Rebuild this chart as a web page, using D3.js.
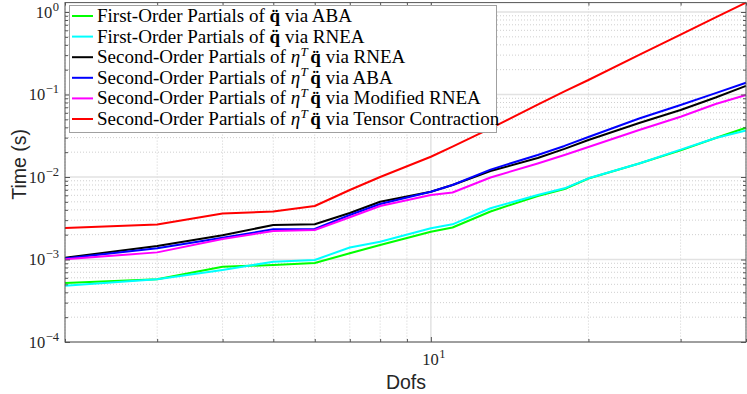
<!DOCTYPE html>
<html>
<head>
<meta charset="utf-8">
<script src="https://cdn.jsdelivr.net/npm/d3@7"></script>
<style>
  html, body { margin: 0; padding: 0; background: #fff; }
  svg { display: block; }
</style>
</head>
<body>
<svg id="chart"></svg>
<script>
// Data (time in seconds)
const dofs = [2, 3, 4, 5, 6, 7, 8, 10, 11, 13, 16, 18, 20, 25, 30, 35, 40];

const firstAba = [5.19e-4, 5.75e-4, 8.18e-4, 8.58e-4, 9.07e-4, 1.19e-3, 1.50e-3, 2.17e-3, 2.44e-3, 3.82e-3, 5.89e-3, 7.15e-3, 9.59e-3, 1.46e-2, 2.10e-2, 2.97e-2, 3.96e-2];
const firstRnea = [4.81e-4, 5.75e-4, 7.46e-4, 9.40e-4, 9.86e-4, 1.40e-3, 1.64e-3, 2.39e-3, 2.67e-3, 4.18e-3, 6.05e-3, 7.29e-3, 9.64e-3, 1.46e-2, 2.15e-2, 2.97e-2, 3.66e-2];
const secondRnea = [1.05e-3, 1.46e-3, 1.97e-3, 2.62e-3, 2.67e-3, 3.66e-3, 5.02e-3, 6.63e-3, 8.0e-3, 1.18e-2, 1.70e-2, 2.19e-2, 2.81e-2, 4.51e-2, 6.49e-2, 9.19e-2, 0.127];
const secondAba = [1.03e-3, 1.37e-3, 1.84e-3, 2.32e-3, 2.34e-3, 3.46e-3, 4.71e-3, 6.63e-3, 8.0e-3, 1.23e-2, 1.85e-2, 2.38e-2, 3.05e-2, 5.12e-2, 7.46e-2, 0.104, 0.139];
const secondModRnea = [1.01e-3, 1.22e-3, 1.77e-3, 2.22e-3, 2.28e-3, 3.25e-3, 4.45e-3, 6.05e-3, 6.49e-3, 9.86e-3, 1.46e-2, 1.85e-2, 2.31e-2, 3.71e-2, 5.38e-2, 7.67e-2, 9.86e-2];
const secondTensor = [2.41e-3, 2.66e-3, 3.61e-3, 3.82e-3, 4.45e-3, 6.96e-3, 1.0e-2, 1.76e-2, 2.33e-2, 3.88e-2, 7.52e-2, 0.109, 0.150, 0.303, 0.532, 0.863, 1.30];

const seriesNames = [
  'First-Order Partials of q\u0308 via ABA',
  'First-Order Partials of q\u0308 via RNEA',
  'Second-Order Partials of η^T q\u0308 via RNEA',
  'Second-Order Partials of η^T q\u0308 via ABA',
  'Second-Order Partials of η^T q\u0308 via Modified RNEA',
  'Second-Order Partials of η^T q\u0308 via Tensor Contraction'
];
const seriesColors = ['#00ff00', '#00ffff', '#000000', '#0000ff', '#ff00ff', '#ff0000'];
const seriesValues = [firstAba, firstRnea, secondRnea, secondAba, secondModRnea, secondTensor];

const yMajor = [1e-4, 1e-3, 1e-2, 1e-1, 1];
const xMajor = [10];

const width = 747, height = 394;
const plot = { left: 65, right: 746, top: 2.6, bottom: 342 };

const svg = d3.select('#chart').attr('width', width).attr('height', height);

const x = d3.scaleLog().domain([2, 40]).range([plot.left, plot.right]);
const y = d3.scaleLog().domain([1e-4, 1.3]).range([plot.bottom, plot.top]);

const xMinor = x.ticks().filter(d => !xMajor.includes(d));
const yMinor = y.ticks().filter(d => !yMajor.some(m => Math.abs(m - d) / m < 1e-6));

// Grid
const grid = svg.append('g');
grid.selectAll('.xminor').data(xMinor).enter().append('line')
  .attr('x1', d => x(d)).attr('x2', d => x(d))
  .attr('y1', plot.top).attr('y2', plot.bottom)
  .attr('stroke', '#cfcfcf').attr('stroke-dasharray', '1,2');
grid.selectAll('.yminor').data(yMinor).enter().append('line')
  .attr('x1', plot.left).attr('x2', plot.right)
  .attr('y1', d => y(d)).attr('y2', d => y(d))
  .attr('stroke', '#cfcfcf').attr('stroke-dasharray', '1,2');
grid.selectAll('.xmajor').data(xMajor).enter().append('line')
  .attr('x1', d => x(d)).attr('x2', d => x(d))
  .attr('y1', plot.top).attr('y2', plot.bottom)
  .attr('stroke', '#e2e2e2').attr('stroke-width', 1.5);
grid.selectAll('.ymajor').data(yMajor).enter().append('line')
  .attr('x1', plot.left).attr('x2', plot.right)
  .attr('y1', d => y(d)).attr('y2', d => y(d))
  .attr('stroke', '#e2e2e2').attr('stroke-width', 1.5);

// Series lines
const line = d3.line().x((d, i) => x(dofs[i])).y(d => y(d));
svg.append('g').selectAll('path').data(seriesValues).enter().append('path')
  .attr('d', d => line(d))
  .attr('fill', 'none')
  .attr('stroke', (d, i) => seriesColors[i])
  .attr('stroke-width', 2)
  .attr('stroke-linejoin', 'round');

// Axes: ticks pointing inward on all four sides
const axisColor = '#555';
function tickAxis(axisFn, scale, values, size, tx, ty) {
  const g = svg.append('g')
    .attr('transform', `translate(${tx},${ty})`)
    .call(axisFn(scale).tickValues(values).tickSize(size).tickFormat(''));
  g.select('.domain').remove();
  g.selectAll('line').attr('stroke', axisColor);
}
tickAxis(d3.axisLeft, y, yMajor, -5, plot.left, 0);
tickAxis(d3.axisLeft, y, yMinor, -3, plot.left, 0);
tickAxis(d3.axisRight, y, yMajor, -5, plot.right, 0);
tickAxis(d3.axisRight, y, yMinor, -3, plot.right, 0);
tickAxis(d3.axisBottom, x, xMajor, -5, 0, plot.bottom);
tickAxis(d3.axisBottom, x, xMinor, -3, 0, plot.bottom);
tickAxis(d3.axisTop, x, xMajor, -5, 0, plot.top);
tickAxis(d3.axisTop, x, xMinor, -3, 0, plot.top);

svg.append('rect')
  .attr('x', plot.left).attr('y', plot.top)
  .attr('width', plot.right - plot.left).attr('height', plot.bottom - plot.top)
  .attr('fill', 'none').attr('stroke', axisColor).attr('stroke-width', 1);

// Tick labels 10^n
const serif = '"Liberation Serif", "DejaVu Serif", serif';
function powerLabel(sel, exp) {
  sel.append('tspan').text('10');
  sel.append('tspan').attr('font-size', 12.5).attr('dx', 0.5).attr('dy', -7)
    .text(exp < 0 ? '\u2212' + (-exp) : String(exp));
}
svg.append('g').selectAll('text').data(yMajor).enter().append('text')
  .attr('x', 59).attr('y', d => y(d) + 5.5)
  .attr('text-anchor', 'end')
  .attr('font-family', serif).attr('font-size', 16.5).attr('fill', '#262626')
  .each(function(d) { powerLabel(d3.select(this), Math.round(Math.log10(d))); });
svg.append('g').selectAll('text').data(xMajor).enter().append('text')
  .attr('x', d => x(d) + 3).attr('y', plot.bottom + 23)
  .attr('text-anchor', 'middle')
  .attr('font-family', serif).attr('font-size', 16.5).attr('fill', '#262626')
  .each(function(d) { powerLabel(d3.select(this), Math.round(Math.log10(d))); });

// Axis titles
const sans = '"Liberation Sans", Arial, sans-serif';
svg.append('text')
  .attr('transform', `translate(26,${(plot.top + plot.bottom) / 2 - 8}) rotate(-90)`)
  .attr('text-anchor', 'middle')
  .attr('font-family', sans).attr('font-size', 19.5).attr('fill', '#262626')
  .text('Time (s)');
svg.append('text')
  .attr('x', 406).attr('y', 389)
  .attr('text-anchor', 'middle')
  .attr('font-family', sans).attr('font-size', 19.5).attr('fill', '#262626')
  .text('Dofs');

// Legend
const legend = svg.append('g');
legend.append('rect')
  .attr('x', 69.5).attr('y', 5.5).attr('width', 427).attr('height', 127)
  .attr('fill', '#fff').attr('stroke', '#a0a0a0').attr('stroke-width', 1);

// renders bold q-double-dot and italic eta with superscript T
function richText(sel, str) {
  let dy = 0, dx = 0;
  str.split(/(q\u0308|η\^T )/).forEach(p => {
    if (!p) return;
    if (p === 'q\u0308') {
      sel.append('tspan').attr('dx', dx).attr('dy', dy).attr('font-weight', 'bold').text(p);
      dy = 0; dx = 0;
    } else if (p === 'η^T ') {
      sel.append('tspan').attr('dx', dx).attr('dy', dy).attr('font-style', 'italic').text('η');
      sel.append('tspan').attr('dx', 0.5).attr('dy', -7.5).attr('font-style', 'italic').attr('font-size', 13).text('T');
      dy = 7.5; dx = 2.5;
    } else {
      sel.append('tspan').attr('dx', dx).attr('dy', dy).text(p);
      dy = 0; dx = 0;
    }
  });
}

const rows = legend.selectAll('g').data(seriesNames).enter().append('g')
  .attr('transform', (d, i) => `translate(0,${16 + i * 20.6})`);
rows.append('line')
  .attr('x1', 72).attr('x2', 93).attr('y1', 0).attr('y2', 0)
  .attr('stroke', (d, i) => seriesColors[i]).attr('stroke-width', 2);
rows.append('text')
  .attr('x', 97).attr('y', 6)
  .attr('font-family', serif).attr('font-size', 19).attr('fill', '#000')
  .each(function(d) { richText(d3.select(this), d); });
</script>
</body>
</html>
